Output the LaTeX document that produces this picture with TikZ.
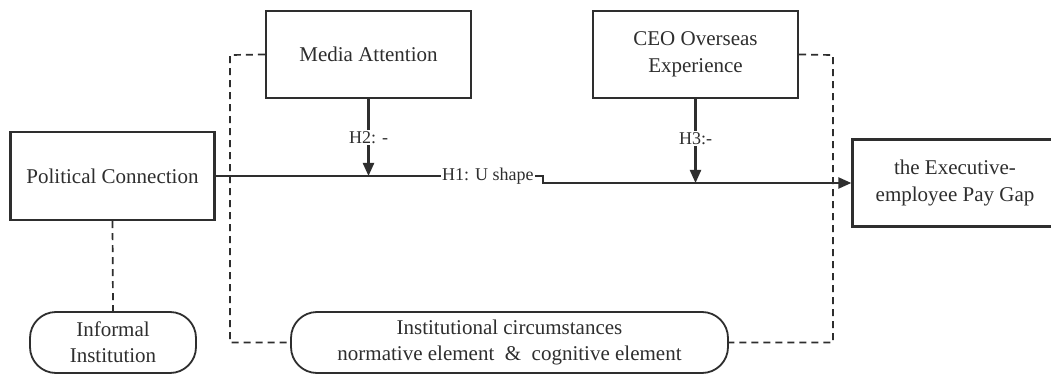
\documentclass[tikz,border=0pt]{standalone}
\usepackage{fontspec}
\setmainfont{Liberation Serif}
\usetikzlibrary{arrows.meta}
\definecolor{ink}{HTML}{2E2E2E}
\begin{document}
\begin{tikzpicture}[x=1pt,y=-1pt,
  every node/.style={text=ink},
  boxnode/.style={draw=ink, line width=2.3pt, minimum width=205pt, minimum height=87pt, align=center, font=\fontsize{21}{27}\selectfont, inner sep=2pt},
  roundnode/.style={draw=ink, line width=1.8pt, rounded corners=26pt, minimum height=61pt, align=center, font=\fontsize{21}{26}\selectfont, inner sep=2pt},
  conn/.style={draw=ink, line width=2.2pt},
  arr/.style={conn, -{Triangle[length=13pt,width=11pt]}},
  dashline/.style={draw=ink, line width=1.7pt, dash pattern=on 7pt off 5pt},
  hlabel/.style={font=\fontsize{18}{20}\selectfont, fill=white, inner sep=1pt}
]
\useasboundingbox (0,0) rectangle (1051,374);
\fill[white] (0,0) rectangle (1051,374);

\node[boxnode] (ma) at (368.5,54.5) {Media Attention};
\node[boxnode] (ceo) at (695.5,54.5) {CEO Overseas\\Experience};
\node[boxnode, minimum width=204pt, minimum height=88pt] (pc) at (112.5,176) {Political Connection};
\node[boxnode] (gap) at (955,183) {the Executive-\\employee Pay Gap};
\node[roundnode, minimum width=166pt] (inf) at (113,342.5) {Informal\\Institution};
\node[roundnode, minimum width=437pt] (inst) at (509.5,342.5) {Institutional circumstances\\normative element \ \& \ cognitive element};

\node[font=\fontsize{18}{20}\selectfont, inner sep=1pt, anchor=west] (h1) at (441,176) {H1: U shape};

\coordinate (k) at (543,183);
\coordinate (dl) at (230,55);
\coordinate (dr) at (833,55);

\draw[conn] (pc.east) -- (h1.west);
\draw[arr] (h1.east) -| (k) -- (gap.west);
\draw[arr] (ma.south) -- node[hlabel] {H2: -} (ma.south |- pc.east);
\draw[arr] (ceo.south) -- node[hlabel, pos=0.47] {H3:-} (ceo.south |- gap.west);

\draw[dashline] (ma.west) -- (dl) |- (inst.west);
\draw[dashline] (ceo.east) -- (dr) |- (inst.east);
\draw[dashline] (pc.south) -- (inf.north);
\end{tikzpicture}
\end{document}
